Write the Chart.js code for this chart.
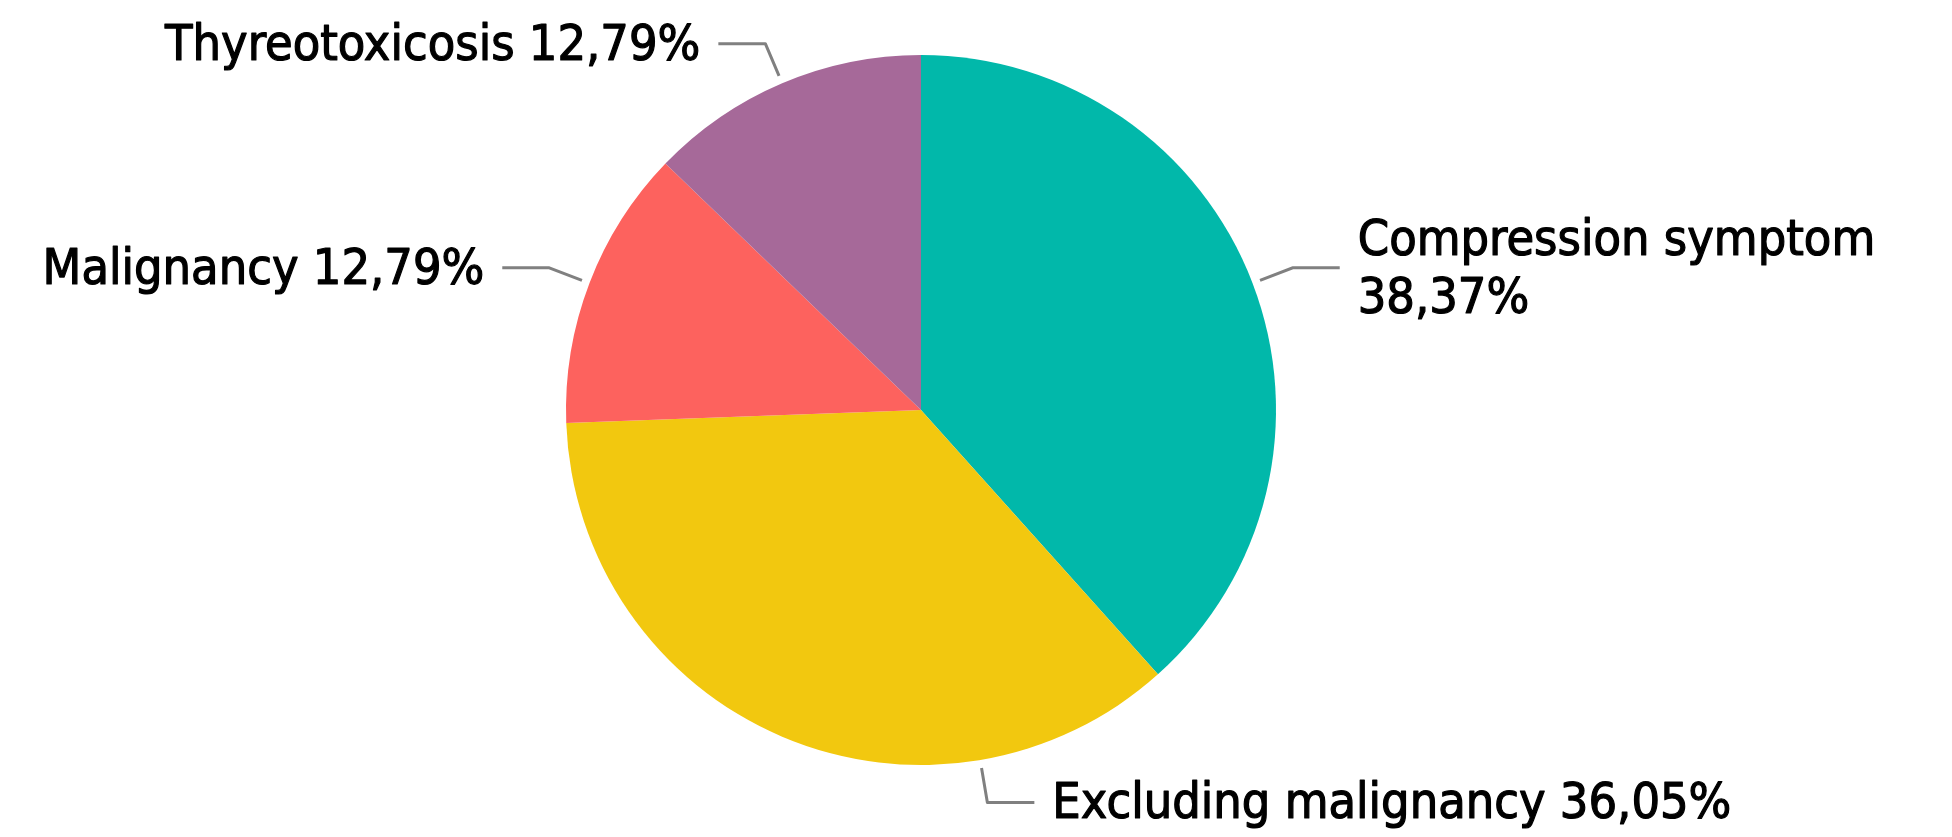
<!DOCTYPE html>
<html>
<head>
<meta charset="utf-8">
<script src="https://cdn.jsdelivr.net/npm/chart.js@4"></script>
<style>
  html, body { margin: 0; padding: 0; background: #fff; }
  #wrap { position: relative; width: 1952px; height: 837px; }
</style>
</head>
<body>
<div id="wrap"><canvas id="pieChart"></canvas></div>
<script>
const categories = ['Compression symptom', 'Excluding malignancy', 'Malignancy', 'Thyreotoxicosis'];
const shares = [38.37, 36.05, 12.79, 12.79];
const sliceColors = ['#01B8AA', '#F2C80F', '#FD625E', '#A66999'];

const fontFamily = '"DejaVu Sans Condensed", "DejaVu Sans", sans-serif';

function formatShare(v) {
  return v.toFixed(2).replace('.', ',') + '%';
}

// draws the outside labels with their bent leader lines
const leaderLabels = {
  id: 'leaderLabels',
  afterDatasetsDraw(chart, args, opts) {
    const ctx = chart.ctx;
    const meta = chart.getDatasetMeta(0);
    ctx.save();
    ctx.font = opts.fontSize + 'px ' + fontFamily;
    ctx.textBaseline = 'alphabetic';

    meta.data.forEach((arc, i) => {
      const p = arc.getProps(['x', 'y', 'startAngle', 'endAngle', 'outerRadius'], true);
      let a = (p.startAngle + p.endAngle) / 2;
      if (opts.angles[i] != null) a = -Math.PI / 2 + opts.angles[i] * Math.PI / 180;
      const r0 = p.outerRadius + opts.startGap;
      const r1 = r0 + opts.radialLen;
      const sx = p.x + Math.cos(a) * r0, sy = p.y + Math.sin(a) * r0;
      const ex = p.x + Math.cos(a) * r1, ey = p.y + Math.sin(a) * r1;
      const right = Math.cos(a) >= 0;
      const hx = ex + (right ? opts.horizLen : -opts.horizLen);

      ctx.lineWidth = opts.lineWidth;
      ctx.strokeStyle = opts.lineColor;
      ctx.beginPath();
      ctx.moveTo(sx, sy);
      ctx.lineTo(ex, ey);
      ctx.lineTo(hx, ey);
      ctx.stroke();

      const tx = hx + (right ? opts.textGap : -opts.textGap);
      const full = categories[i] + ' ' + formatShare(shares[i]);
      let lines = [full];
      const w = ctx.measureText(full).width;
      if ((right && tx + w > chart.width - 10) || (!right && tx - w < 10)) {
        lines = [categories[i], formatShare(shares[i])];
      }
      ctx.textAlign = right ? 'left' : 'right';
      ctx.fillStyle = opts.textColor;
      ctx.strokeStyle = opts.textColor;
      ctx.lineWidth = opts.textWeight;
      ctx.lineJoin = 'round';
      const first = ey + opts.baselineShift - (lines.length - 1) * opts.lineHeight / 2;
      lines.forEach((ln, k) => {
        ctx.fillText(ln, tx, first + k * opts.lineHeight);
        ctx.strokeText(ln, tx, first + k * opts.lineHeight);
      });
    });
    ctx.restore();
  }
};

new Chart(document.getElementById('pieChart'), {
  type: 'pie',
  data: {
    labels: categories,
    datasets: [{
      data: shares,
      backgroundColor: sliceColors,
      borderWidth: 0,
      hoverOffset: 0
    }]
  },
  options: {
    responsive: true,
    maintainAspectRatio: false,
    animation: false,
    layout: { padding: { top: 55, bottom: 72, left: 0, right: 110 } },
    plugins: {
      legend: { display: false },
      tooltip: { enabled: false },
      leaderLabels: {
        angles: [null, 170.4, null, null],
        startGap: 8,
        radialLen: 35,
        horizLen: 47,
        textGap: 18,
        fontSize: 50,
        lineHeight: 58,
        baselineShift: 16,
        lineWidth: 3,
        lineColor: '#808080',
        textColor: '#000000',
        textWeight: 1.2
      }
    }
  },
  plugins: [leaderLabels]
});
</script>
</body>
</html>
